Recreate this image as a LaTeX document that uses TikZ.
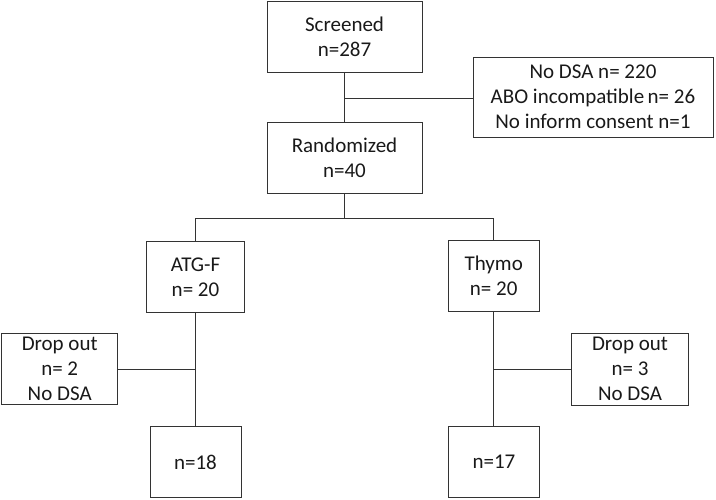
\documentclass[tikz,border=0pt]{standalone}
\usepackage{fontspec}
\setmainfont{Carlito}
\begin{document}
\begin{tikzpicture}[x=1pt,y=-1pt,
  box/.style={draw=black!80,line width=0.8pt,rectangle,inner sep=0pt,align=center,
    font=\fontsize{21}{25}\selectfont,text=black!90},
  conn/.style={draw=black!80,line width=0.8pt}]
\useasboundingbox (0,0) rectangle (716,500);
\node[box,minimum width=155pt,minimum height=71pt] (scr) at (344.5,36.5) {Screened\\n=287};
\node[box,minimum width=240pt,minimum height=80pt] (exc) at (593,97) {No DSA n= 220\\ABO incompatible\,n= 26\\No inform consent n=1};
\node[box,minimum width=155pt,minimum height=71pt] (ran) at (344.5,157.5) {Randomized\\n=40};
\node[box,minimum width=98pt,minimum height=71pt] (atg) at (195.5,277) {ATG-F\\n= 20};
\node[box,minimum width=91pt,minimum height=71pt] (thy) at (493.7,275.5) {Thymo\\n= 20};
\node[box,minimum width=116pt,minimum height=71pt] (dl) at (59.7,369) {Drop out\\n= 2\\No DSA};
\node[box,minimum width=117pt,minimum height=72pt] (dr) at (630,369) {Drop out\\n= 3\\No DSA};
\node[box,minimum width=91pt,minimum height=71pt] (n18) at (195.5,462) {n=18};
\node[box,minimum width=91pt,minimum height=71pt] (n17) at (494,462) {n=17};
\coordinate (j1) at (344.5,98);
\coordinate (br) at (344.5,218);
\draw[conn] (scr.south) -- (ran.north);
\draw[conn] (j1) -- (exc.west |- j1);
\draw[conn] (ran.south) -- (br);
\draw[conn] (atg.north) |- (br);
\draw[conn] (br) -| (thy.north);
\draw[conn] (atg.south) -- (n18.north);
\draw[conn] (dl.east) -- (atg.south |- dl.east);
\draw[conn] (thy.south) -- (thy.south |- n17.north);
\draw[conn] (dr.west) -- (thy.south |- dr.west);
\end{tikzpicture}
\end{document}
